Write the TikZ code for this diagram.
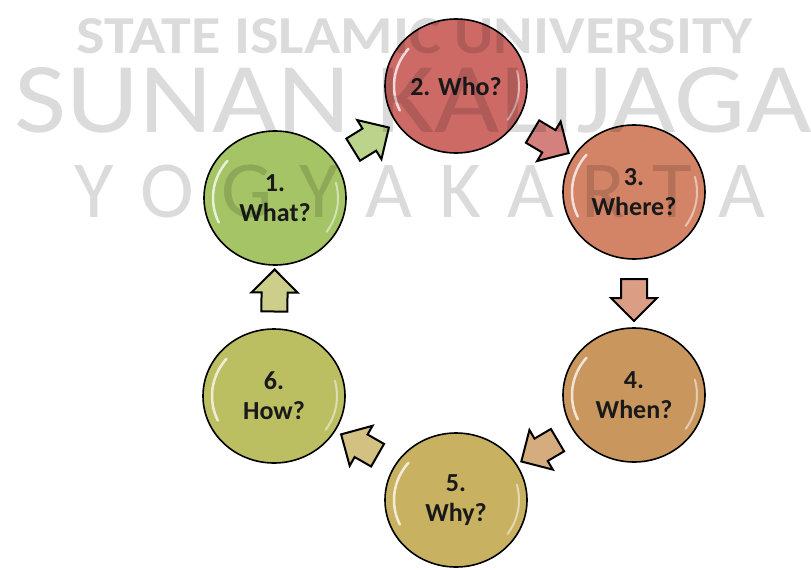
\documentclass[tikz,border=0pt]{standalone}
\usepackage{fontspec}
\setmainfont{Carlito}
\usetikzlibrary{shapes.geometric, shapes.arrows, calc}

\definecolor{whatfill}{HTML}{A5C465}
\definecolor{whofill}{HTML}{CD6A66}
\definecolor{wherefill}{HTML}{D38466}
\definecolor{whenfill}{HTML}{C9975E}
\definecolor{whyfill}{HTML}{C8B262}
\definecolor{howfill}{HTML}{BCBE62}

\begin{document}
\begin{tikzpicture}[x = 1pt, y = -1pt]
    \tikzstyle{bubble}=[draw, ellipse, line width = 1.6pt, minimum width = 142pt, minimum height = 134pt, inner sep = 0pt, align = center, text = black!90, font = \bfseries\fontsize{26}{30}\selectfont,
        path picture = {
            \draw[white, opacity = .75, line width = 2.5pt, line cap = round] ($(path picture bounding box.center)+(140:62pt and 58pt)$) arc[start angle = 140, end angle = 205, x radius = 62pt, y radius = 58pt];
            \draw[white, opacity = .5, line width = 2pt, line cap = round] ($(path picture bounding box.center)+(-35:63pt and 59pt)$) arc[start angle = -35, end angle = 15, x radius = 63pt, y radius = 59pt];
        }]
    \tikzstyle{turn}=[draw, single arrow, line width = 2pt, sloped, allow upside down, inner xsep = 0pt, inner ysep = 12pt, single arrow head extend = 10pt, single arrow tip angle = 90, minimum height = 42pt]
    \tikzstyle{wmark}=[black, opacity = .14, inner sep = 0pt]
    \useasboundingbox (0,0) rectangle (811,570);

    \node[bubble, fill = whatfill] (what) at (275,198) {1.\\What?};
    \node[bubble, fill = whofill] (who) at (456,86) {2. Who?};
    \node[bubble, fill = wherefill] (where) at (634,192) {3.\\Where?};
    \node[bubble, fill = whenfill] (when) at (634,395) {4.\\When?};
    \node[bubble, fill = whyfill] (why) at (456,500) {5.\\Why?};
    \node[bubble, fill = howfill] (how) at (274,396) {6.\\How?};

    \path (what) -- node[turn, fill = whatfill!75!white] (what-who) {} (who);
    \path (who) -- node[turn, fill = whofill!85!white] (who-where) {} (where);
    \path (where) -- node[turn, fill = wherefill!80!white] (where-when) {} (when);
    \path (when) -- node[turn, fill = whenfill!80!white] (when-why) {} (why);
    \path (why) -- node[turn, fill = whyfill!80!white] (why-how) {} (how);
    \path (how) -- node[turn, fill = howfill!75!white] (how-what) {} (what);

    % watermark
    \node[wmark] (mark-top) at (415,36) {\resizebox{676pt}{35pt}{\bfseries STATE ISLAMIC UNIVERSITY}};
    \node[wmark] (mark-mid) at (413,100) {\resizebox{796pt}{65pt}{SUNAN KALIJAGA}};
    \node[wmark, font = \fontsize{81}{81}\selectfont] (mark-low) at (420,191) {\makebox[691pt]{Y\hfill O\hfill G\hfill Y\hfill A\hfill K\hfill A\hfill R\hfill T\hfill A}};
\end{tikzpicture}
\end{document}
